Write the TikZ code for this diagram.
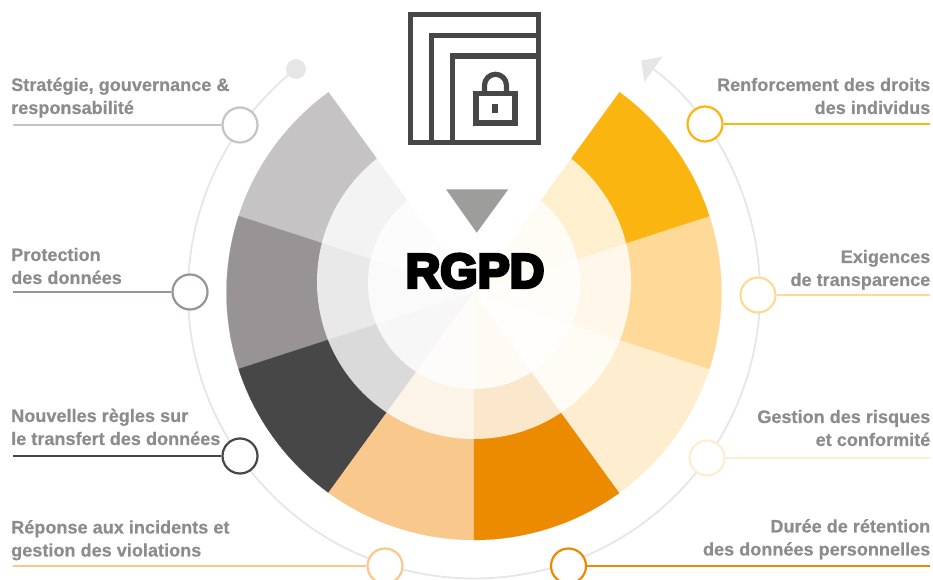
\documentclass[tikz,border=0pt]{standalone}
\usepackage{fontspec}
\usepackage{tikz}
\usetikzlibrary{arrows.meta}
\setmainfont{Liberation Sans}[BoldFeatures={FakeBold=0.5}]
\newfontfamily\heavyfont{Liberation Sans}[UprightFont={* Bold},UprightFeatures={FakeBold=6.5}]
\definecolor{graya}{RGB}{197,195,196}
\definecolor{grayb}{RGB}{152,148,149}
\definecolor{grayc}{RGB}{71,71,71}
\definecolor{orga}{RGB}{248,200,141}
\definecolor{orgb}{RGB}{237,139,0}
\definecolor{orgc}{RGB}{255,237,207}
\definecolor{orgd}{RGB}{255,217,152}
\definecolor{orge}{RGB}{251,181,17}
\definecolor{ringgray}{RGB}{230,230,230}
\definecolor{textgray}{RGB}{140,140,140}
\definecolor{arrowgray}{RGB}{157,157,156}
\newcommand{\sector}[3]{\fill[#3,draw=#3,line width=.2pt] (474,287.5) -- +(#1:247.5pt) arc[start angle=#1,end angle=#2,radius=247.5pt] -- cycle;}

\begin{document}
\begin{tikzpicture}[x=1pt,y=1pt,inner sep=0pt]
\tikzstyle{main}=[circle, minimum size=35pt, line width=2.2pt, fill=white]
\tikzstyle{connect}=[line width=2.3pt]
\tikzstyle{lefttext}=[anchor=base west, align=left, text=textgray, font=\bfseries\fontsize{18.1}{23}\selectfont]
\tikzstyle{righttext}=[anchor=base east, align=right, text=textgray, font=\bfseries\fontsize{18.1}{23}\selectfont]
\tikzstyle{icon}=[draw=grayc, line width=5.2pt]
\useasboundingbox (0,0) rectangle (933,580);
\sector{126}{162}{graya}
\sector{162}{198}{grayb}
\sector{198}{234}{grayc}
\sector{234}{270}{orga}
\sector{270}{306}{orgb}
\sector{306}{342}{orgc}
\sector{342}{378}{orgd}
\sector{378}{414}{orge}
\fill[white,opacity=.8] (474,298) circle[radius=157pt];
\fill[white,opacity=.8] (474,297) circle[radius=106pt];
\draw[ringgray,line width=1.8pt,-{Triangle[length=15pt,width=31pt]}] (474,287.5) ++(128.5:286pt) arc[start angle=128.5,end angle=414.2,radius=286pt];
\node[circle, minimum size=20pt, fill=ringgray] (dot) at (296,511) {};
\coordinate (la) at (13,455);
\coordinate (lb) at (13,288);
\coordinate (lc) at (13,124);
\coordinate (ld) at (13,14);
\coordinate (le) at (930,14);
\coordinate (lf) at (930,122);
\coordinate (lg) at (930,285);
\coordinate (lh) at (930,456);
\node[main,draw=graya] (ca) at (240,455) {};
\node[main,draw=grayb] (cb) at (190,288) {};
\node[main,draw=grayc] (cc) at (240,124) {};
\node[main,draw=orga] (cd) at (385,14) {};
\node[main,draw=orgb] (ce) at (568.5,14) {};
\node[main,draw=orgc] (cf) at (707,122) {};
\node[main,draw=orgd] (cg) at (758,285) {};
\node[main,draw=orge] (ch) at (705,456) {};
\path (ca) edge[connect,graya] (la);
\path (cb) edge[connect,grayb] (lb);
\path (cc) edge[connect,grayc] (lc);
\path (cd) edge[connect,orga] (ld);
\path (ce) edge[connect,orgb] (le);
\path (cf) edge[connect,orgc] (lf);
\path (cg) edge[connect,orgd] (lg);
\path (ch) edge[connect,orge] (lh);
\node[lefttext] (ta) at (11,466) {Stratégie, gouvernance \&\\responsabilité};
\node[lefttext] (tb) at (11,296) {Protection\\des données};
\node[lefttext] (tc) at (11,135) {Nouvelles règles sur\\le transfert des données};
\node[lefttext] (td) at (11,23.5) {Réponse aux incidents et\\gestion des violations};
\node[righttext] (te) at (930.5,24.5) {Durée de rétention\\des données personnelles};
\node[righttext] (tf) at (930.5,134) {Gestion des risques\\et conformité};
\node[righttext] (tg) at (930.5,294) {Exigences\\de transparence};
\node[righttext] (th) at (930.5,466) {Renforcement des droits\\des individus};
% icon
\node[rectangle, icon, minimum size=128pt] (outer) at (474.5,501.5) {};
\draw[icon] (431.7,437.5) -- (431.7,544.3) -- (538.5,544.3);
\draw[icon] (452.3,437.5) -- (452.3,524) -- (538.5,524);
\node[rectangle, icon, minimum width=39pt, minimum height=29.5pt] (lock) at (495.5,471.7) {};
\draw[icon] (484.5,486.3) -- (484.5,494.7) arc[start angle=180,end angle=0,radius=11pt] -- (506.5,486.3);
\fill[grayc] (492,467.3) rectangle (498.3,476);
\fill[arrowgray] (446,390.7) -- (508.3,390.7) -- (476.7,347.3) -- cycle;
\node[font=\heavyfont\fontsize{48}{48}\selectfont, anchor=base] (rgpd) at (475,292.5) {RGPD};
\end{tikzpicture}
\end{document}
